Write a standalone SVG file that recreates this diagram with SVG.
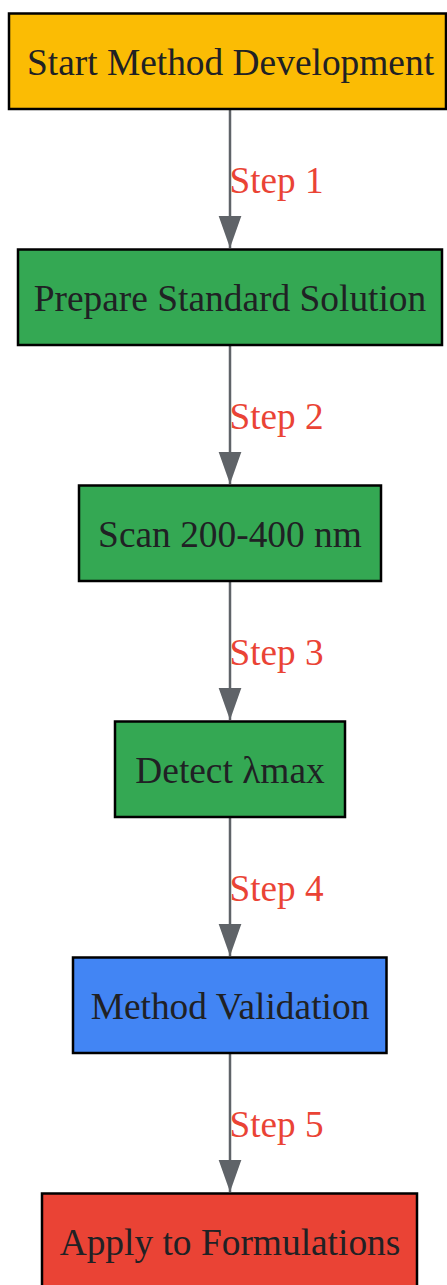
<svg xmlns="http://www.w3.org/2000/svg" width="447" height="1285" viewBox="0 0 447 1285">
<style>
.box{stroke:#000;stroke-width:2.5}
.t{font-family:"Liberation Serif","Times New Roman",serif;font-size:37.4px;fill:#202124;text-anchor:middle}
.lbl{font-family:"Liberation Serif","Times New Roman",serif;font-size:37.2px;fill:#ea4335}
.edge{stroke:#5f6368;stroke-width:2.5;fill:none}
</style>
<defs>
<marker id="arrd" markerUnits="userSpaceOnUse" markerWidth="24" markerHeight="33" refX="11" refY="31" orient="0" viewBox="0 0 22 32">
<path d="M0,0 L22,0 L11,31 Z" fill="#5f6368"/>
</marker>
</defs>
<rect width="447" height="1285" fill="#fff"/>
<g id="connectors">
<line class="edge" x1="230" y1="109" x2="230" y2="248" marker-end="url(#arrd)"/>
<line class="edge" x1="230" y1="345" x2="230" y2="484" marker-end="url(#arrd)"/>
<line class="edge" x1="230" y1="581" x2="230" y2="720" marker-end="url(#arrd)"/>
<line class="edge" x1="230" y1="817" x2="230" y2="956" marker-end="url(#arrd)"/>
<line class="edge" x1="230" y1="1053" x2="230" y2="1192" marker-end="url(#arrd)"/>
<text class="lbl" x="229.5" y="192.5">Step 1</text>
<text class="lbl" x="229.5" y="428.5">Step 2</text>
<text class="lbl" x="229.5" y="664.5">Step 3</text>
<text class="lbl" x="229.5" y="900.5">Step 4</text>
<text class="lbl" x="229.5" y="1136.5">Step 5</text>
</g>
<g id="n1"><rect class="box" x="9" y="13.5" width="437" height="95.5" fill="#fbbc04"/><text class="t" x="230.5" y="75">Start Method Development</text></g>
<g id="n2"><rect class="box" x="18" y="249.5" width="424" height="95.5" fill="#34a853"/><text class="t" x="230" y="311">Prepare Standard Solution</text></g>
<g id="n3"><rect class="box" x="79" y="485.5" width="302" height="95.5" fill="#34a853"/><text class="t" x="230" y="547">Scan 200-400 nm</text></g>
<g id="n4"><rect class="box" x="115" y="721.5" width="230" height="95.5" fill="#34a853"/><text class="t" x="230" y="783">Detect λmax</text></g>
<g id="n5"><rect class="box" x="73" y="957.5" width="313.5" height="95.5" fill="#4285f4"/><text class="t" x="230" y="1019">Method Validation</text></g>
<g id="n6"><rect class="box" x="42" y="1193.5" width="375" height="95.5" fill="#ea4335"/><text class="t" x="230" y="1255">Apply to Formulations</text></g>
</svg>
